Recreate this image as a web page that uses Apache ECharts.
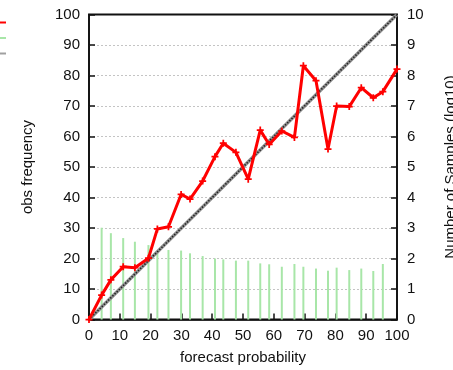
<!DOCTYPE html>
<html>
<head>
<meta charset="utf-8">
<script src="https://cdn.jsdelivr.net/npm/echarts@6/dist/echarts.min.js"></script>
<style>
html,body{margin:0;padding:0;background:#fff;}
#chart{width:453px;height:370px;}
</style>
</head>
<body>
<div id="chart"></div>
<script>
// forecast probability bins (%)
var binProb = [4.1, 7.1, 11.1, 14.9, 19.3, 22.2, 25.8, 29.9, 32.8, 36.9, 40.9, 43.6, 47.7, 51.7,
               55.6, 58.5, 62.6, 66.7, 69.6, 73.7, 77.6, 80.4, 84.5, 88.4, 92.3, 95.4];
// observed frequency (%) at 0, each bin, and 100
var obsProb = [0].concat(binProb, [100]);
var obsFreq = [0, 8.0, 13.0, 17.3, 17.0, 20.1, 29.7, 30.4, 41.0, 39.5, 45.4, 53.4, 57.8, 54.8,
               46.0, 62.1, 57.4, 61.8, 59.7, 83.2, 78.3, 55.9, 70.0, 69.8, 76.0, 72.7, 74.7, 82.1];
// number of samples per bin (log10)
var sampleLog = [3.01, 2.83, 2.67, 2.55, 2.44, 2.26, 2.28, 2.26, 2.17, 2.08, 2.0, 1.97, 1.93, 1.93,
                 1.84, 1.81, 1.73, 1.82, 1.73, 1.67, 1.6, 1.7, 1.62, 1.67, 1.59, 1.82];
// perfect reliability diagonal
var diagX = [0, 100];
var diagY = [0, 100];

function pairs(xs, ys) { return xs.map(function (x, i) { return [x, ys[i]]; }); }

var font = 'Liberation Sans, Arial, Helvetica, sans-serif';
var chart = echarts.init(document.getElementById('chart'), null, {renderer: 'canvas'});

chart.setOption({
  animation: false,
  textStyle: {fontFamily: font},
  grid: {left: 89, right: 56, top: 14.5, bottom: 50.5, show: true, outerBoundsMode: 'none',
         containLabel: false,
         borderColor: '#111', borderWidth: 1.8, backgroundColor: 'transparent'},
  legend: {
    orient: 'vertical', left: -24, top: 21.5, align: 'left', padding: 0,
    itemWidth: 30, itemHeight: 2, itemGap: 13.5, icon: 'rect',
    formatter: function () { return ''; },
    data: [
      {name: 'obs', itemStyle: {color: '#ff0000'}},
      {name: 'samples', itemStyle: {color: '#a8e6a8'}},
      {name: 'perfect', itemStyle: {color: '#a0a0a0'}}
    ]
  },
  xAxis: {
    type: 'value', min: 0, max: 100, interval: 10,
    name: 'forecast probability', nameLocation: 'middle', nameGap: 31,
    nameTextStyle: {fontSize: 15, color: '#111', fontFamily: font},
    axisLine: {lineStyle: {color: '#111', width: 1.6}},
    axisTick: {inside: true, length: 6, lineStyle: {color: '#111', width: 1.5}},
    axisLabel: {fontSize: 15, color: '#111', margin: 9, fontFamily: font},
    splitLine: {show: false}
  },
  yAxis: [{
    type: 'value', min: 0, max: 100, interval: 10,
    name: 'obs frequency', nameLocation: 'middle', nameGap: 54,
    nameTextStyle: {fontSize: 15, color: '#111', fontFamily: font},
    axisLine: {show: true, lineStyle: {color: '#111', width: 1.6}},
    axisTick: {show: true, inside: true, length: 6, lineStyle: {color: '#111', width: 1.5}},
    axisLabel: {fontSize: 15, color: '#111', margin: 9, fontFamily: font},
    splitLine: {show: true, showMinLine: false, showMaxLine: false,
                lineStyle: {color: '#c4c4c4', width: 1, type: [2, 2]}}
  }, {
    type: 'value', min: 0, max: 10, interval: 1, position: 'right',
    name: 'Number of Samples (log10)', nameLocation: 'middle', nameGap: 46, nameRotate: 90,
    nameTextStyle: {fontSize: 15, color: '#111', fontFamily: font},
    axisLine: {show: true, lineStyle: {color: '#111', width: 1.6}},
    axisTick: {show: true, inside: true, length: 6, lineStyle: {color: '#111', width: 1.5}},
    axisLabel: {fontSize: 15, color: '#111', margin: 10, fontFamily: font},
    splitLine: {show: false}
  }],
  series: [{
    name: 'samples', type: 'bar', yAxisIndex: 1, barWidth: 2,
    itemStyle: {color: '#a8e6a8'},
    data: pairs(binProb, sampleLog), z: 1
  }, {
    name: 'perfect', type: 'line', symbol: 'none',
    lineStyle: {color: '#909090', width: 3.4},
    data: pairs(diagX, diagY), z: 2
  }, {
    name: 'perfect-hatch', type: 'line', symbol: 'none',
    lineStyle: {color: '#222', width: 1.6, type: [1.4, 1.6]},
    data: pairs(diagX, diagY), z: 3
  }, {
    name: 'obs', type: 'line',
    symbol: 'path://M-1,-4H1V-1H4V1H1V4H-1V1H-4V-1H-1Z', symbolSize: 7,
    itemStyle: {color: '#ff0000'},
    lineStyle: {color: '#ff0000', width: 3},
    data: pairs(obsProb, obsFreq), z: 4
  }]
});
</script>
</body>
</html>
